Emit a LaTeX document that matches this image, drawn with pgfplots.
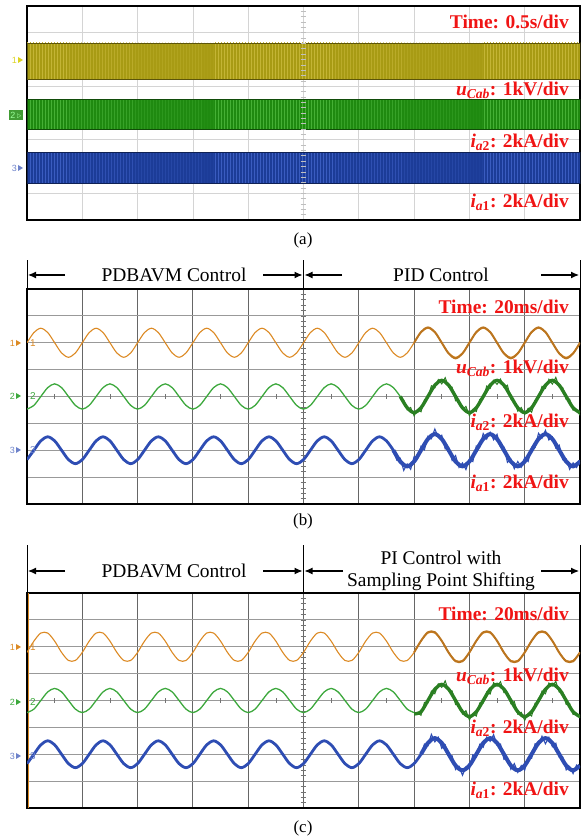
\documentclass[border=0pt]{standalone}
\usepackage{fontspec}
\setmainfont{Liberation Serif}
\newfontfamily\chfont{Liberation Sans}
\usepackage{pgfplots}
\pgfplotsset{compat=1.18}
\usetikzlibrary{arrows.meta,patterns}

\definecolor{scopeorange}{HTML}{DC8A24}
\definecolor{scopegreen}{HTML}{3DA83D}
\definecolor{scopegreendk}{HTML}{2A7F22}
\definecolor{scopeblue}{HTML}{2E4DB3}
\definecolor{labred}{HTML}{F01414}
\definecolor{bandyel}{HTML}{A89B14}
\definecolor{bandyellt}{HTML}{C4B535}
\definecolor{bandgrn}{HTML}{1F8A10}
\definecolor{bandgrnlt}{HTML}{45B035}
\definecolor{bandblu}{HTML}{1C3C98}
\definecolor{bandblult}{HTML}{3A5CC0}

\pgfplotsset{
  scope box/.style={
    scale only axis, width=553bp,
    xmin=0, xmax=80, ymin=-4, ymax=4,
    xtick={0,8,...,80}, ytick={-4,-3,...,4},
    xticklabels={}, yticklabels={},
    major tick length=0pt,
    grid=major,
    axis line style={line width=1.5bp, black},
    anchor=south west,
  },
  dark grid/.style={
    every axis x grid/.append style={line width=1.1bp, black!60},
    every axis y grid/.append style={line width=0.8bp, black!40},
  },
  light grid/.style={
    grid style={line width=0.8bp, black!17},
  },
}

\newcommand{\chmark}[4]{%
  \node[text=#3, font=\chfont\fontsize{9}{10}\selectfont, anchor=east, inner sep=0] at (#1,#2) {#4};
  \fill[#3] (#1+1,#2-3) -- (#1+6,#2) -- (#1+1,#2+3) -- cycle;
}
\newcommand{\redlab}[3]{%
  \node[anchor=east, inner sep=0, text=labred, font=\fontsize{19.5}{22}\selectfont\bfseries] at (#1,#2) {#3};
}

\begin{document}
\begin{tikzpicture}[x=1bp, y=1bp]
\useasboundingbox (0,0) rectangle (583,840);

% ---------------- (a) ----------------
\begin{axis}[scope box, light grid, height=214bp, at={(27bp,620bp)}]
\addplot[draw=bandyel!55!black, line width=0.8bp, fill=bandyel,
  postaction={pattern=vertical lines, pattern color=bandyellt}]
  coordinates {(0,2.62) (80,2.62) (80,1.27) (0,1.27)} --cycle;
\addplot[draw=bandgrn!55!black, line width=0.8bp, fill=bandgrn,
  postaction={pattern=vertical lines, pattern color=bandgrnlt}]
  coordinates {(0,0.52) (80,0.52) (80,-0.60) (0,-0.60)} --cycle;
\addplot[draw=bandblu!55!black, line width=0.8bp, fill=bandblu,
  postaction={pattern=vertical lines, pattern color=bandblult}]
  coordinates {(0,-1.46) (80,-1.46) (80,-2.65) (0,-2.65)} --cycle;
\pgfplotsinvokeforeach{-3.8,-3.6,...,3.8}{\draw[black!25, line width=0.6bp] (axis cs:39.6,#1) -- (axis cs:40.4,#1);}
\end{axis}
\redlab{569}{818}{Time: 0.5s/div}
\redlab{569}{750}{\textit{u}\textsubscript{\textit{Cab}}: 1kV/div}
\redlab{569}{698}{\textit{i}\textsubscript{\textit{a}2}: 2kA/div}
\redlab{569}{638}{\textit{i}\textsubscript{\textit{a}1}: 2kA/div}
\chmark{17}{780}{yellow!85!black}{1}
\node[fill=bandgrn!85!white, text=green!40!white, font=\chfont\fontsize{9}{10}\selectfont, inner sep=1.5bp] at (16,725) {2\,\(\triangleright\)};
\chmark{17}{672}{scopeblue!70!white}{3}
\node[font=\fontsize{17}{20}\selectfont] at (303,600) {(a)};

% ---------------- (b) ----------------
\begin{axis}[scope box, dark grid, height=215bp, at={(27bp,336bp)}]
\pgfplotsinvokeforeach{-3.8,-3.6,...,3.8}{\draw[black!55, line width=0.6bp] (axis cs:39.6,#1) -- (axis cs:40.4,#1);}
\pgfplotsinvokeforeach{4,12,...,76}{\draw[black!55, line width=0.6bp] (axis cs:#1,-0.08) -- (axis cs:#1,0.08);}
% channel 1, u_Cab
\addplot[scopeorange, line width=1.1bp, smooth] coordinates {
(0,2.00) (1,2.38) (2,2.54) (3,2.38) (4,2.00) (5,1.62) (6,1.46) (7,1.62)
(8,2.00) (9,2.38) (10,2.54) (11,2.38) (12,2.00) (13,1.62) (14,1.46) (15,1.62)
(16,2.00) (17,2.38) (18,2.54) (19,2.38) (20,2.00) (21,1.62) (22,1.46) (23,1.62)
(24,2.00) (25,2.38) (26,2.54) (27,2.38) (28,2.00) (29,1.62) (30,1.46) (31,1.62)
(32,2.00) (33,2.38) (34,2.54) (35,2.38) (36,2.00) (37,1.62) (38,1.46) (39,1.62)
(40,2.00) (41,2.38) (42,2.54) (43,2.38) (44,2.00) (45,1.62) (46,1.46) (47,1.62)
(48,2.00) (49,2.38) (50,2.54) (51,2.38) (52,2.00) (53,1.62) (54,1.46) (55,1.62)
(56,2.00) (57,2.38) (58,2.54) (59,2.38) (60,2.00) (61,1.62) (62,1.46) (63,1.62)
(64,2.00) (65,2.38) (66,2.54) (67,2.38) (68,2.00) (69,1.62) (70,1.46) (71,1.62)
(72,2.00) (73,2.38) (74,2.54) (75,2.38) (76,2.00) (77,1.62) (78,1.46) (79,1.62)
(80,2.00)};
\addplot[scopeorange!85!black, line width=2bp, smooth] coordinates {
(56,2.00) (57,2.40) (58,2.57) (59,2.40) (60,2.00) (61,1.60) (62,1.42) (63,1.60)
(64,2.00) (65,2.40) (66,2.57) (67,2.40) (68,2.00) (69,1.60) (70,1.42) (71,1.60)
(72,2.00) (73,2.40) (74,2.57) (75,2.40) (76,2.00) (77,1.60) (78,1.42) (79,1.60)
(80,2.00)};
% channel 2, i_a2
\addplot[scopegreen, line width=1.3bp, smooth] coordinates {
(0,-0.47) (1,-0.33) (2,0) (3,0.33) (4,0.47) (5,0.33) (6,0) (7,-0.33)
(8,-0.47) (9,-0.33) (10,0) (11,0.33) (12,0.47) (13,0.33) (14,0) (15,-0.33)
(16,-0.47) (17,-0.33) (18,0) (19,0.33) (20,0.47) (21,0.33) (22,0) (23,-0.33)
(24,-0.47) (25,-0.33) (26,0) (27,0.33) (28,0.47) (29,0.33) (30,0) (31,-0.33)
(32,-0.47) (33,-0.33) (34,0) (35,0.33) (36,0.47) (37,0.33) (38,0) (39,-0.33)
(40,-0.47) (41,-0.33) (42,0) (43,0.33) (44,0.47) (45,0.33) (46,0) (47,-0.33)
(48,-0.47) (49,-0.33) (50,0) (51,0.33) (52,0.47) (53,0.33) (54,0)};
\addplot[scopegreendk, line width=3.4bp, smooth] coordinates {
(54,0) (55,-0.42) (56,-0.60) (57,-0.42) (58,0) (59,0.42) (60,0.60) (61,0.42)
(62,0) (63,-0.42) (64,-0.60) (65,-0.42) (66,0) (67,0.42) (68,0.60) (69,0.42)
(70,0) (71,-0.42) (72,-0.60) (73,-0.42) (74,0) (75,0.42) (76,0.60) (77,0.42)
(78,0) (79,-0.42) (80,-0.60)};
\addplot[scopegreendk, line width=1bp] coordinates {
(54,0.00) (54.5,-0.13) (55,-0.50) (55.5,-0.41) (56,-0.72) (56.5,-0.49) (57,-0.57) (57.5,-0.12)
(58,-0.05) (58.5,0.40) (59,0.32) (59.5,0.63) (60,0.47) (60.5,0.70) (61,0.35) (61.5,0.35)
(62,-0.16) (62.5,-0.14) (63,-0.48) (63.5,-0.37) (64,-0.71) (64.5,-0.48) (65,-0.56) (65.5,-0.11)
(66,-0.09) (66.5,0.39) (67,0.30) (67.5,0.60) (68,0.45) (68.5,0.65) (69,0.34) (69.5,0.42)
(70,-0.10) (70.5,-0.17) (71,-0.55) (71.5,-0.41) (72,-0.67) (72.5,-0.44) (73,-0.59) (73.5,-0.15)
(74,-0.05) (74.5,0.38) (75,0.30) (75.5,0.64) (76,0.46) (76.5,0.71) (77,0.36) (77.5,0.33)
(78,-0.11) (78.5,-0.10) (79,-0.51) (79.5,-0.48) (80,-0.70)};
% channel 3, i_a1
\addplot[scopeblue, line width=2.8bp, smooth] coordinates {
(0,-2.35) (1,-2.00) (2,-1.65) (3,-1.50) (4,-1.65) (5,-2.00) (6,-2.35) (7,-2.50)
(8,-2.35) (9,-2.00) (10,-1.65) (11,-1.50) (12,-1.65) (13,-2.00) (14,-2.35) (15,-2.50)
(16,-2.35) (17,-2.00) (18,-1.65) (19,-1.50) (20,-1.65) (21,-2.00) (22,-2.35) (23,-2.50)
(24,-2.35) (25,-2.00) (26,-1.65) (27,-1.50) (28,-1.65) (29,-2.00) (30,-2.35) (31,-2.50)
(32,-2.35) (33,-2.00) (34,-1.65) (35,-1.50) (36,-1.65) (37,-2.00) (38,-2.35) (39,-2.50)
(40,-2.35) (41,-2.00) (42,-1.65) (43,-1.50) (44,-1.65) (45,-2.00) (46,-2.35) (47,-2.50)
(48,-2.35) (49,-2.00) (50,-1.65) (51,-1.50) (52,-1.65) (53,-2.00)};
\addplot[scopeblue, line width=4bp, smooth] coordinates {
(53,-2.00) (54,-2.42) (55,-2.60) (56,-2.42) (57,-2.00) (58,-1.58) (59,-1.40) (60,-1.58)
(61,-2.00) (62,-2.42) (63,-2.60) (64,-2.42) (65,-2.00) (66,-1.58) (67,-1.40) (68,-1.58)
(69,-2.00) (70,-2.42) (71,-2.60) (72,-2.42) (73,-2.00) (74,-1.58) (75,-1.40) (76,-1.58)
(77,-2.00) (78,-2.42) (79,-2.60) (80,-2.42)};
\addplot[scopeblue, line width=1.1bp] coordinates {
(53,-2.00) (53.5,-2.37) (54,-2.30) (54.5,-2.75) (55,-2.51) (55.5,-2.71) (56,-2.24) (56.5,-2.31)
(57,-1.85) (57.5,-1.98) (58,-1.48) (58.5,-1.57) (59,-1.21) (59.5,-1.52) (60,-1.44) (60.5,-1.95)
(61,-1.89) (61.5,-2.38) (62,-2.20) (62.5,-2.64) (63,-2.47) (63.5,-2.72) (64,-2.34) (64.5,-2.42)
(65,-1.84) (65.5,-1.88) (66,-1.38) (66.5,-1.58) (67,-1.33) (67.5,-1.61) (68,-1.41) (68.5,-1.87)
(69,-1.88) (69.5,-2.45) (70,-2.33) (70.5,-2.69) (71,-2.42) (71.5,-2.63) (72,-2.27) (72.5,-2.42)
(73,-1.89) (73.5,-1.90) (74,-1.37) (74.5,-1.55) (75,-1.26) (75.5,-1.62) (76,-1.50) (76.5,-1.92)
(77,-1.81) (77.5,-2.35) (78,-2.32) (78.5,-2.71) (79,-2.47) (79.5,-2.64) (80,-2.37)};
\end{axis}
\draw[line width=1bp] (27,551) -- (27,580) (303.5,551) -- (303.5,580) (580,551) -- (580,580);
\begin{scope}[line width=1.1bp, -{Latex[length=8bp,width=7bp]}]
\draw (65,565) -- (28,565);
\draw (263,565) -- (302.5,565);
\draw (342,565) -- (304.5,565);
\draw (541,565) -- (579,565);
\end{scope}
\node[font=\fontsize{19.5}{22}\selectfont] at (174,565) {PDBAVM Control};
\node[font=\fontsize{19.5}{22}\selectfont] at (441,565) {PID Control};
\redlab{569}{533}{Time: 20ms/div}
\redlab{569}{472}{\textit{u}\textsubscript{\textit{Cab}}: 1kV/div}
\redlab{569}{418}{\textit{i}\textsubscript{\textit{a}2}: 2kA/div}
\redlab{569}{357}{\textit{i}\textsubscript{\textit{a}1}: 2kA/div}
\chmark{15}{497}{scopeorange}{1}
\chmark{15}{444}{scopegreen}{2}
\chmark{15}{390}{scopeblue!70!white}{3}
\node[anchor=west, inner sep=0, text=scopeorange, font=\chfont\fontsize{10}{11}\selectfont] at (30,497) {1};
\node[anchor=west, inner sep=0, text=scopegreen, font=\chfont\fontsize{10}{11}\selectfont] at (30,444) {2};
\node[anchor=west, inner sep=0, text=scopeblue!70!white, font=\chfont\fontsize{10}{11}\selectfont] at (30,390) {3};
\node[font=\fontsize{17}{20}\selectfont] at (303,319) {(b)};

% ---------------- (c) ----------------
\begin{axis}[scope box, dark grid, height=215bp, at={(27bp,32bp)}]
\pgfplotsinvokeforeach{-3.8,-3.6,...,3.8}{\draw[black!55, line width=0.6bp] (axis cs:39.6,#1) -- (axis cs:40.4,#1);}
\pgfplotsinvokeforeach{4,12,...,76}{\draw[black!55, line width=0.6bp] (axis cs:#1,-0.08) -- (axis cs:#1,0.08);}
\draw[scopeorange, line width=1bp] (axis cs:0.25,-4) -- (axis cs:0.25,4);
% channel 1, u_Cab
\addplot[scopeorange, line width=1.1bp, smooth] coordinates {
(0,1.79) (1,2.21) (2,2.51) (3,2.51) (4,2.21) (5,1.79) (6,1.49) (7,1.49)
(8,1.79) (9,2.21) (10,2.51) (11,2.51) (12,2.21) (13,1.79) (14,1.49) (15,1.49)
(16,1.79) (17,2.21) (18,2.51) (19,2.51) (20,2.21) (21,1.79) (22,1.49) (23,1.49)
(24,1.79) (25,2.21) (26,2.51) (27,2.51) (28,2.21) (29,1.79) (30,1.49) (31,1.49)
(32,1.79) (33,2.21) (34,2.51) (35,2.51) (36,2.21) (37,1.79) (38,1.49) (39,1.49)
(40,1.79) (41,2.21) (42,2.51) (43,2.51) (44,2.21) (45,1.79) (46,1.49) (47,1.49)
(48,1.79) (49,2.21) (50,2.51) (51,2.51) (52,2.21) (53,1.79) (54,1.49) (55,1.49)
(56,1.79) (57,2.21) (58,2.51) (59,2.51) (60,2.21) (61,1.79) (62,1.49) (63,1.49)
(64,1.79) (65,2.21) (66,2.51) (67,2.51) (68,2.21) (69,1.79) (70,1.49) (71,1.49)
(72,1.79) (73,2.21) (74,2.51) (75,2.51) (76,2.21) (77,1.79) (78,1.49) (79,1.49)
(80,1.79)};
\addplot[scopeorange!85!black, line width=2bp, smooth] coordinates {
(56,1.79) (57,2.22) (58,2.54) (59,2.54) (60,2.22) (61,1.78) (62,1.46) (63,1.46)
(64,1.79) (65,2.22) (66,2.54) (67,2.54) (68,2.22) (69,1.78) (70,1.46) (71,1.46)
(72,1.79) (73,2.22) (74,2.54) (75,2.54) (76,2.22) (77,1.78) (78,1.46) (79,1.46)
(80,1.79)};
% channel 2, i_a2
\addplot[scopegreen, line width=1.3bp, smooth] coordinates {
(0,-0.45) (1,-0.32) (2,0) (3,0.32) (4,0.45) (5,0.32) (6,0) (7,-0.32)
(8,-0.45) (9,-0.32) (10,0) (11,0.32) (12,0.45) (13,0.32) (14,0) (15,-0.32)
(16,-0.45) (17,-0.32) (18,0) (19,0.32) (20,0.45) (21,0.32) (22,0) (23,-0.32)
(24,-0.45) (25,-0.32) (26,0) (27,0.32) (28,0.45) (29,0.32) (30,0) (31,-0.32)
(32,-0.45) (33,-0.32) (34,0) (35,0.32) (36,0.45) (37,0.32) (38,0) (39,-0.32)
(40,-0.45) (41,-0.32) (42,0) (43,0.32) (44,0.45) (45,0.32) (46,0) (47,-0.32)
(48,-0.45) (49,-0.32) (50,0) (51,0.32) (52,0.45) (53,0.32) (54,0) (55,-0.32)
(56,-0.45)};
\addplot[scopegreendk, line width=3.4bp, smooth] coordinates {
(56,-0.50) (57,-0.42) (58,0) (59,0.42) (60,0.60) (61,0.42)
(62,0) (63,-0.42) (64,-0.60) (65,-0.42) (66,0) (67,0.42) (68,0.60) (69,0.42)
(70,0) (71,-0.42) (72,-0.60) (73,-0.42) (74,0) (75,0.42) (76,0.60) (77,0.42)
(78,0) (79,-0.42) (80,-0.60)};
\addplot[scopegreendk, line width=1bp] coordinates {
(56,-0.45) (56.5,-0.47) (57,-0.55) (57.5,-0.07) (58,-0.09) (58.5,0.35) (59,0.25) (59.5,0.62)
(60,0.49) (60.5,0.73) (61,0.36) (61.5,0.36) (62,-0.15) (62.5,-0.13) (63,-0.50) (63.5,-0.38)
(64,-0.72) (64.5,-0.49) (65,-0.58) (65.5,-0.09) (66,-0.10) (66.5,0.32) (67,0.24) (67.5,0.66)
(68,0.53) (68.5,0.70) (69,0.29) (69.5,0.31) (70,-0.12) (70.5,-0.04) (71,-0.51) (71.5,-0.44)
(72,-0.74) (72.5,-0.48) (73,-0.58) (73.5,-0.10) (74,-0.08) (74.5,0.35) (75,0.25) (75.5,0.65)
(76,0.54) (76.5,0.71) (77,0.31) (77.5,0.32) (78,-0.15) (78.5,-0.11) (79,-0.52) (79.5,-0.47)
(80,-0.65)};
% channel 3, i_a1
\addplot[scopeblue, line width=2.8bp, smooth] coordinates {
(0,-2.35) (1,-2.00) (2,-1.65) (3,-1.50) (4,-1.65) (5,-2.00) (6,-2.35) (7,-2.50)
(8,-2.35) (9,-2.00) (10,-1.65) (11,-1.50) (12,-1.65) (13,-2.00) (14,-2.35) (15,-2.50)
(16,-2.35) (17,-2.00) (18,-1.65) (19,-1.50) (20,-1.65) (21,-2.00) (22,-2.35) (23,-2.50)
(24,-2.35) (25,-2.00) (26,-1.65) (27,-1.50) (28,-1.65) (29,-2.00) (30,-2.35) (31,-2.50)
(32,-2.35) (33,-2.00) (34,-1.65) (35,-1.50) (36,-1.65) (37,-2.00) (38,-2.35) (39,-2.50)
(40,-2.35) (41,-2.00) (42,-1.65) (43,-1.50) (44,-1.65) (45,-2.00) (46,-2.35) (47,-2.50)
(48,-2.35) (49,-2.00) (50,-1.65) (51,-1.50) (52,-1.65) (53,-2.00) (54,-2.35) (55,-2.50)
(56,-2.35) (57,-2.00)};
\addplot[scopeblue, line width=4bp, smooth] coordinates {
(57,-2.00) (58,-1.58) (59,-1.40) (60,-1.58)
(61,-2.00) (62,-2.42) (63,-2.60) (64,-2.42) (65,-2.00) (66,-1.58) (67,-1.40) (68,-1.58)
(69,-2.00) (70,-2.42) (71,-2.60) (72,-2.42) (73,-2.00) (74,-1.58) (75,-1.40) (76,-1.58)
(77,-2.00) (78,-2.42) (79,-2.60) (80,-2.42)};
\addplot[scopeblue, line width=1.1bp] coordinates {
(57,-2.00) (57.5,-1.62) (58,-1.69) (58.5,-1.26) (59,-1.54) (59.5,-1.37) (60,-1.78) (60.5,-1.65)
(61,-2.09) (61.5,-2.06) (62,-2.57) (62.5,-2.45) (63,-2.78) (63.5,-2.48) (64,-2.55) (64.5,-2.02)
(65,-2.10) (65.5,-1.63) (66,-1.74) (66.5,-1.36) (67,-1.52) (67.5,-1.27) (68,-1.66) (68.5,-1.62)
(69,-2.19) (69.5,-2.12) (70,-2.56) (70.5,-2.35) (71,-2.67) (71.5,-2.42) (72,-2.59) (72.5,-2.13)
(73,-2.15) (73.5,-1.61) (74,-1.67) (74.5,-1.33) (75,-1.61) (75.5,-1.37) (76,-1.72) (76.5,-1.59)
(77,-2.11) (77.5,-2.10) (78,-2.58) (78.5,-2.46) (79,-2.72) (79.5,-2.40) (80,-2.48)};
\end{axis}
\draw[line width=1bp] (27,247) -- (27,295) (303.5,247) -- (303.5,295) (580,247) -- (580,295);
\begin{scope}[line width=1.1bp, -{Latex[length=8bp,width=7bp]}]
\draw (65,269) -- (28,269);
\draw (263,269) -- (302.5,269);
\draw (343,269) -- (304.5,269);
\draw (541,269) -- (579,269);
\end{scope}
\node[font=\fontsize{19.5}{22}\selectfont] at (174,269) {PDBAVM Control};
\node[font=\fontsize{19.5}{22}\selectfont] at (441,282) {PI Control with};
\node[font=\fontsize{19.5}{22}\selectfont] at (441,258) {Sampling Point Shifting};
\redlab{569}{226}{Time: 20ms/div}
\redlab{569}{164}{\textit{u}\textsubscript{\textit{Cab}}: 1kV/div}
\redlab{569}{112}{\textit{i}\textsubscript{\textit{a}2}: 2kA/div}
\redlab{569}{50}{\textit{i}\textsubscript{\textit{a}1}: 2kA/div}
\chmark{15}{193}{scopeorange}{1}
\chmark{15}{138}{scopegreen}{2}
\chmark{15}{84}{scopeblue!70!white}{3}
\node[anchor=west, inner sep=0, text=scopeorange, font=\chfont\fontsize{10}{11}\selectfont] at (30,193) {1};
\node[anchor=west, inner sep=0, text=scopegreen, font=\chfont\fontsize{10}{11}\selectfont] at (30,138) {2};
\node[anchor=west, inner sep=0, text=scopeblue!70!white, font=\chfont\fontsize{10}{11}\selectfont] at (30,84) {3};
\node[font=\fontsize{17}{20}\selectfont] at (303,12) {(c)};
\end{tikzpicture}
\end{document}
